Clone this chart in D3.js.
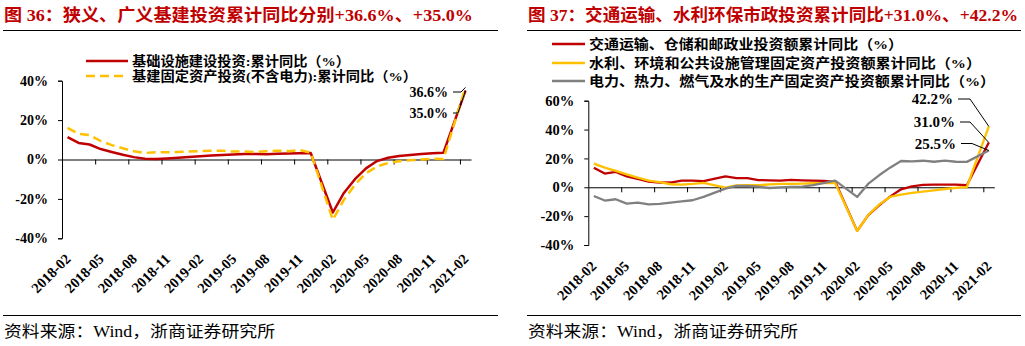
<!DOCTYPE html>
<html><head><meta charset="utf-8">
<script src="https://cdn.jsdelivr.net/npm/d3@7"></script>
<style>
html,body{margin:0;padding:0;background:#fff;}
svg{display:block;}
</style></head>
<body>
<svg id="c" width="1025" height="346"></svg>
<script>
// ---------- data ----------
const months = [
 "2018-02","2018-03","2018-04","2018-05","2018-06","2018-07","2018-08","2018-09","2018-10","2018-11","2018-12",
 "2019-01","2019-02","2019-03","2019-04","2019-05","2019-06","2019-07","2019-08","2019-09","2019-10","2019-11","2019-12",
 "2020-01","2020-02","2020-03","2020-04","2020-05","2020-06","2020-07","2020-08","2020-09","2020-10","2020-11","2020-12",
 "2021-01","2021-02"];
const tickLabels = ["2018-02","2018-05","2018-08","2018-11","2019-02","2019-05","2019-08","2019-11","2020-02","2020-05","2020-08","2020-11","2021-02"];

// Fig 36 (January values are not published: null)
const infraBroad = [11.4,8.4,7.6,5.3,3.8,2.4,1.2,0.4,0.2,0.5,0.9, null,
  1.6,2.0,2.3,2.6,2.8,2.8,2.7,2.9,3.1,3.2,3.3, null,
  -26.9,-17.0,-10.0,-4.5,-0.8,0.9,1.8,2.3,2.8,3.2,3.4, null, 35.0];
const infraNarrow = [16.1,13.0,12.4,9.4,7.3,5.7,4.2,3.3,3.7,3.7,3.8, null,
  4.3,4.4,4.4,4.0,4.1,3.8,4.2,4.5,4.2,4.8,3.5, null,
  -30.6,-20.5,-12.8,-7.0,-3.5,-1.8,-0.9,-0.4,0.0,0.4,0.2, null, 36.6];
const leftTicks = [-40,-20,0,20,40];

// Fig 37
const transport = [13.6,9.5,10.6,7.6,5.8,4.0,3.2,3.3,4.6,4.6,4.3, null,
  7.6,6.4,6.4,5.0,4.8,4.6,5.1,4.8,4.6,4.4,3.8, null,
  -30.2,-19.5,-12.5,-6.5,-1.4,0.7,1.6,1.8,1.9,1.8,1.4, null, 31.0];
const waterEnv = [16.4,13.6,11.3,9.0,6.7,4.6,3.5,2.1,1.8,2.3,3.0, null,
  -0.3,1.3,1.5,1.4,2.0,2.3,2.3,2.5,2.8,2.9,2.9, null,
  -30.3,-19.4,-12.0,-6.7,-5.1,-3.9,-3.0,-2.1,-1.2,-0.4,0.2, null, 42.2];
const power = [-6.0,-9.2,-8.3,-11.3,-10.6,-11.8,-11.5,-10.6,-9.7,-9.0,-6.7, null,
  -0.9,0.9,0.9,0.5,-0.5,0.0,0.3,0.5,1.5,3.0,4.6, null,
  -6.7,2.3,8.3,13.6,18.2,18.0,18.4,17.7,18.4,17.7,17.6, null, 25.5];
const rightTicks = [-40,-20,0,20,40,60];

// ---------- drawing ----------
const svg = d3.select("#c");
const FONT = "'Liberation Serif','Times New Roman','Noto Sans CJK SC',serif";
const RED = "#c00000", YEL = "#ffc000", GRY = "#808080", TITLE = "#c00000";

function header(x0, x1, title, titleLen, footLen) {
  svg.append("text").attr("x", x0 + 1).attr("y", 21)
    .attr("font-family", FONT).attr("font-weight", "bold").attr("font-size", 17.5)
    .attr("fill", TITLE).attr("textLength", titleLen).attr("lengthAdjust", "spacingAndGlyphs")
    .text(title);
  svg.append("line").attr("x1", x0).attr("x2", x1).attr("y1", 30.5).attr("y2", 30.5)
    .attr("stroke", "#000").attr("stroke-width", 1);
  svg.append("line").attr("x1", x0).attr("x2", x1).attr("y1", 315.5).attr("y2", 315.5)
    .attr("stroke", "#000").attr("stroke-width", 1);
  svg.append("text").attr("x", x0 + 1).attr("y", 337)
    .attr("font-family", FONT).attr("font-size", 16).attr("fill", "#000")
    .attr("textLength", footLen).attr("lengthAdjust", "spacingAndGlyphs")
    .text("资料来源：Wind，浙商证券研究所");
}

function panel(cfg) {
  const x = d3.scaleBand().domain(months).range([cfg.x0, cfg.x1]).padding(0);
  const bw = x.bandwidth();
  const xb = d3.scaleLinear().domain([0, months.length]).range([cfg.x0, cfg.x1]);
  const y = d3.scaleLinear().domain(cfg.yDomain).range([cfg.yBot, cfg.yTop]);
  const g = svg.append("g");

  // y axis
  const ya = g.append("g").attr("transform", `translate(${cfg.x0},0)`)
    .call(d3.axisLeft(y).tickValues(cfg.ticks).tickSize(4).tickSizeOuter(4).tickPadding(10)
      .tickFormat(d => d + "%"));
  ya.selectAll("text").attr("font-family", FONT).attr("font-weight", "bold")
    .attr("font-size", cfg.tickFont).attr("fill", "#000");
  ya.selectAll("path,line").attr("stroke", "#000");

  // x axis at zero: ticks at every 3rd category boundary
  const xa = g.append("g").attr("transform", `translate(0,${y(0)})`)
    .call(d3.axisBottom(xb).tickValues(d3.range(3, months.length, 3)).tickSize(5).tickSizeOuter(0)
      .tickFormat(""));
  xa.selectAll("path,line").attr("stroke", "#000");

  // category labels
  const la = g.append("g").attr("transform", `translate(0,${cfg.yBot})`)
    .call(d3.axisBottom(x).tickValues(tickLabels).tickSize(0).tickSizeOuter(0));
  la.select("path").remove();
  la.selectAll("text")
    .attr("font-family", FONT).attr("font-weight", "bold").attr("font-size", cfg.xFont).attr("fill", "#000")
    .attr("text-anchor", "end").attr("dy", 0).attr("y", 0)
    .attr("transform", `translate(${cfg.labDx},${cfg.labDy}) rotate(-45)`);

  // series
  const line = d3.line().x(d => x(d.m) + bw / 2).y(d => y(d.v));
  cfg.series.forEach(s => {
    const pts = months.map((m, i) => ({m, v: s.values[i]})).filter(d => d.v !== null);
    g.append("path").datum(pts).attr("d", line).attr("fill", "none")
      .attr("stroke", s.color).attr("stroke-width", s.width)
      .attr("stroke-dasharray", s.dash || null)
      .attr("stroke-linejoin", "round");
  });

  // end annotations
  cfg.notes.forEach(n => {
    const s = cfg.series[n.si];
    const last = months.length - 1;
    const ex = x(months[last]) + bw / 2, ey = y(s.values[last]);
    g.append("polyline")
      .attr("points", [[n.lx + 5, n.ly], [n.kx, n.ly], [ex, ey]].map(p => p.join(",")).join(" "))
      .attr("fill", "none").attr("stroke", "#000").attr("stroke-width", 1);
    g.append("text").attr("x", n.lx).attr("y", n.ly + 5).attr("text-anchor", "end")
      .attr("font-family", FONT).attr("font-weight", "bold").attr("font-size", cfg.noteFont)
      .attr("fill", "#000").text(s.values[last].toFixed(1) + "%");
  });

  // legend
  cfg.series.forEach((s, i) => {
    const ly = cfg.legY[i];
    g.append("line").attr("x1", cfg.legX0).attr("x2", cfg.legX1).attr("y1", ly).attr("y2", ly)
      .attr("stroke", s.color).attr("stroke-width", s.width).attr("stroke-dasharray", s.dash || null);
    g.append("text").attr("x", cfg.legX1 + 4).attr("y", ly + 4.5)
      .attr("font-family", FONT).attr("font-weight", "bold").attr("font-size", cfg.legFont)
      .attr("fill", "#000").attr("textLength", s.legLen).attr("lengthAdjust", "spacingAndGlyphs")
      .text(s.name);
  });
}

header(3, 498, "图 36：狭义、广义基建投资累计同比分别+36.6%、+35.0%", 469, 271);
header(527, 1021, "图 37：交通运输、水利环保市政投资累计同比+31.0%、+42.2%", 490, 270);

panel({
  x0: 62, x1: 471, yTop: 80.7, yBot: 238.3, yDomain: [-40, 40], ticks: leftTicks,
  tickFont: 14, xFont: 14.5, noteFont: 14, legFont: 13.5, labDx: 4, labDy: 21.5,
  legX0: 86, legX1: 128, legY: [61, 76],
  series: [
    {name: "基础设施建设投资:累计同比（%）", values: infraBroad, color: RED, width: 2.5, legLen: 218},
    {name: "基建固定资产投资(不含电力):累计同比（%）", values: infraNarrow, color: YEL, width: 2.5, dash: "9,5", legLen: 285}
  ],
  notes: [
    {si: 1, lx: 448, ly: 92, kx: 461},
    {si: 0, lx: 448, ly: 113, kx: 458}
  ]
});

panel({
  x0: 588.3, x1: 994.3, yTop: 100.7, yBot: 245, yDomain: [-40, 60], ticks: rightTicks,
  tickFont: 14.5, xFont: 14.5, noteFont: 15, legFont: 13.5, labDx: 3.5, labDy: 22,
  legX0: 552, legX1: 585, legY: [44, 63, 81],
  series: [
    {name: "交通运输、仓储和邮政业投资额累计同比（%）", values: transport, color: RED, width: 2.3, legLen: 314},
    {name: "水利、环境和公共设施管理固定资产投资额累计同比（%）", values: waterEnv, color: YEL, width: 2.3, legLen: 392},
    {name: "电力、热力、燃气及水的生产固定资产投资额累计同比（%）", values: power, color: GRY, width: 2.3, legLen: 406}
  ],
  notes: [
    {si: 1, lx: 953, ly: 99, kx: 970},
    {si: 0, lx: 955, ly: 122, kx: 970},
    {si: 2, lx: 956, ly: 143.5, kx: 972}
  ]
});
</script>
</body></html>
